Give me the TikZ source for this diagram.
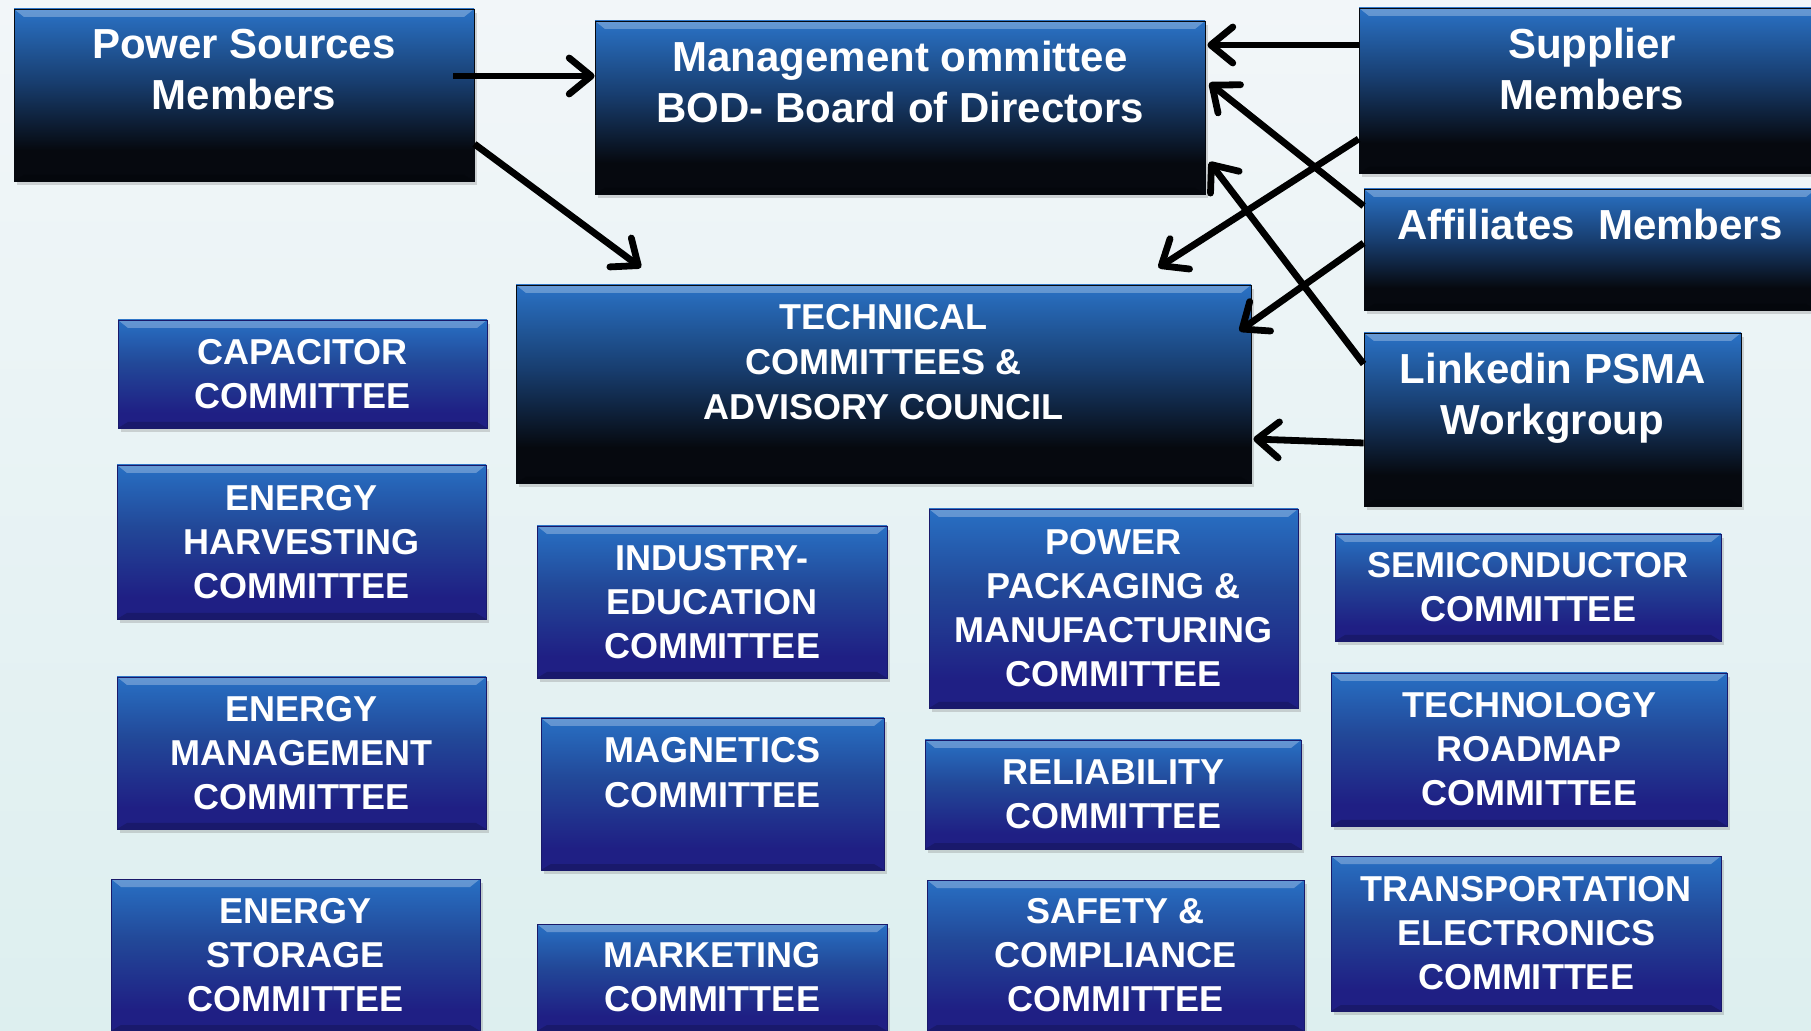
\documentclass[tikz,border=0pt]{standalone}
\usepackage{fontspec}
\setmainfont[Ligatures=NoCommon]{Liberation Sans}
\usepackage{tikz}
\usetikzlibrary{arrows.meta, shadows}

\definecolor{bgtop}{RGB}{242,246,249}
\definecolor{bgbot}{RGB}{221,239,239}
\definecolor{hdblue}{RGB}{42,114,198}
\definecolor{hdmid}{RGB}{24,62,112}
\definecolor{hdblack}{RGB}{6,9,15}
\definecolor{cmblue}{RGB}{40,112,196}
\definecolor{cmmid}{RGB}{34,72,152}
\definecolor{cmnavy}{RGB}{31,31,132}

\pgfdeclareverticalshading{hdshade}{100bp}{color(0bp)=(hdblack); color(25bp)=(hdblack); color(34bp)=(hdblack); color(54bp)=(hdmid); color(75bp)=(hdblue); color(100bp)=(hdblue)}
\pgfdeclareverticalshading{cmshade}{100bp}{color(0bp)=(cmnavy); color(25bp)=(cmnavy); color(32bp)=(cmnavy); color(55bp)=(cmmid); color(75bp)=(cmblue); color(100bp)=(cmblue)}

\begin{document}
\begin{tikzpicture}[x=0.5pt, y=-0.5pt,
  >={Straight Barb[length=11pt,width=18pt,round]},
  arr/.style={->, line width=3.4pt, black},
  bevel/.style={path picture={
    \fill[white, opacity=0.28] (path picture bounding box.north west) -- (path picture bounding box.north east)
      -- ([shift={(-5pt,-4pt)}]path picture bounding box.north east) -- ([shift={(5pt,-4pt)}]path picture bounding box.north west) -- cycle;
    \fill[black, opacity=0.18] (path picture bounding box.south west) -- (path picture bounding box.south east)
      -- ([shift={(-5pt,3pt)}]path picture bounding box.south east) -- ([shift={(5pt,3pt)}]path picture bounding box.south west) -- cycle;
  }},
  boxbase/.style={shade, rectangle, inner sep=0pt, text=white, align=center,
    line width=0.4pt, bevel,
    drop shadow={shadow xshift=1.5pt, shadow yshift=-2pt, opacity=0.3}},
  hdbox/.style={boxbase, shading=hdshade, draw=hdblack,
    font=\bfseries\fontsize{21}{25.5}\selectfont},
  cmbox/.style={boxbase, shading=cmshade, draw=cmnavy!80!black,
    font=\bfseries\fontsize{18}{22}\selectfont},
  topbase/.style={anchor=north, align=center, text=white, inner sep=0pt},
  hdtext/.style={topbase, yshift=-10pt, font=\bfseries\fontsize{21}{25.5}\selectfont},
  cmtext/.style={topbase, yshift=-9.5pt, font=\bfseries\fontsize{18}{22.5}\selectfont}
]
  \useasboundingbox (0,0) rectangle (1811,1031);
  \shade[top color=bgtop, bottom color=bgbot] (0,0) rectangle (1811,1031);

  % members and board
  \node[hdbox, minimum width=230pt, minimum height=86pt,
        label={[hdtext]north:{Power Sources\\Members}}]        (power)    at (244,95)      {};
  \node[hdbox, minimum width=305pt, minimum height=86.5pt,
        label={[hdtext]north:{Management ommittee\\BOD- Board of Directors}}] (mgmt) at (900,107.5) {};
  \node[hdbox, minimum width=233pt, minimum height=82.5pt,
        label={[hdtext]north:{Supplier\\Members}}]              (supplier) at (1592,90.5)   {};
  \node[hdbox, minimum width=226pt, minimum height=60.5pt,
        label={[hdtext]north:{Affiliates~~Members}}]            (affil)    at (1590,249.5)  {};
  \node[hdbox, minimum width=188.5pt, minimum height=86.5pt,
        label={[hdtext]north:{Linkedin PSMA\\Workgroup}}]       (linkedin) at (1552.5,419.5) {};
  \node[hdbox, minimum width=367.5pt, minimum height=99pt,
        label={[cmtext]north:{TECHNICAL\\COMMITTEES \&\\ADVISORY COUNCIL}}] (techcom) at (883.5,384) {};

  % committees
  \node[cmbox, minimum width=184.5pt, minimum height=54pt]   (capacitor)   at (302.5,374)   {CAPACITOR\\COMMITTEE};
  \node[cmbox, minimum width=184.5pt, minimum height=77pt]   (harvest)     at (301.5,542)   {ENERGY\\HARVESTING\\COMMITTEE};
  \node[cmbox, minimum width=184.5pt, minimum height=76pt]   (energymgmt)  at (301.5,753)   {ENERGY\\MANAGEMENT\\COMMITTEE};
  \node[cmbox, minimum width=184.5pt, minimum height=76pt]   (storage)     at (295.5,955)   {ENERGY\\STORAGE\\COMMITTEE};
  \node[cmbox, minimum width=175pt, minimum height=76pt]     (industry)    at (712,602)     {INDUSTRY-\\EDUCATION\\COMMITTEE};
  \node[cmbox, minimum width=171.5pt, minimum height=76pt,
        label={[cmtext]north:{MAGNETICS\\COMMITTEE}}]          (magnetics)   at (712.5,794)   {};
  \node[cmbox, minimum width=175pt, minimum height=53.5pt]   (marketing)   at (712,977.5)   {MARKETING\\COMMITTEE};
  \node[cmbox, minimum width=184.5pt, minimum height=99.5pt] (packaging)   at (1113.5,608.5) {POWER\\PACKAGING \&\\MANUFACTURING\\COMMITTEE};
  \node[cmbox, minimum width=188pt, minimum height=54.5pt]   (reliability) at (1113,794.5)  {RELIABILITY\\COMMITTEE};
  \node[cmbox, minimum width=188.5pt, minimum height=75.5pt] (safety)      at (1115.5,955.5) {SAFETY \&\\COMPLIANCE\\COMMITTEE};
  \node[cmbox, minimum width=193pt, minimum height=53.5pt]   (semicond)    at (1528,587.5)  {SEMICONDUCTOR\\COMMITTEE};
  \node[cmbox, minimum width=198pt, minimum height=76.5pt]   (roadmap)     at (1529,749.5)  {TECHNOLOGY\\ROADMAP\\COMMITTEE};
  \node[cmbox, minimum width=195pt, minimum height=77.5pt]   (transport)   at (1526,933.5)  {TRANSPORTATION\\ELECTRONICS\\COMMITTEE};

  % arrows
  \draw[arr] ([xshift=-10.5pt,yshift=9.5pt]power.east) -- ([yshift=15.75pt]mgmt.west);
  \draw[arr] ([yshift=-24.5pt]power.east) -- ([xshift=-121.25pt,yshift=8.5pt]techcom.north);
  \draw[arr] ([yshift=22.75pt]supplier.west) -- ([xshift=1pt,yshift=22.75pt]mgmt.east |- supplier.west);
  \draw[arr] ([yshift=21.75pt]affil.west) -- ([xshift=2pt,yshift=12.25pt]mgmt.east);
  \draw[arr] ([yshift=27.75pt]linkedin.west) -- ([xshift=2pt,yshift=-27.25pt]mgmt.east);
  \draw[arr] ([yshift=-24.25pt]supplier.west) -- ([xshift=-46.5pt,yshift=8.5pt]techcom.north east);
  \draw[arr] ([yshift=3.25pt]affil.west) -- ([xshift=-6pt,yshift=26.5pt]techcom.east);
  \draw[arr] ([yshift=-11.75pt]linkedin.west) -- ([xshift=1pt,yshift=-27.5pt]techcom.east);
\end{tikzpicture}
\end{document}
